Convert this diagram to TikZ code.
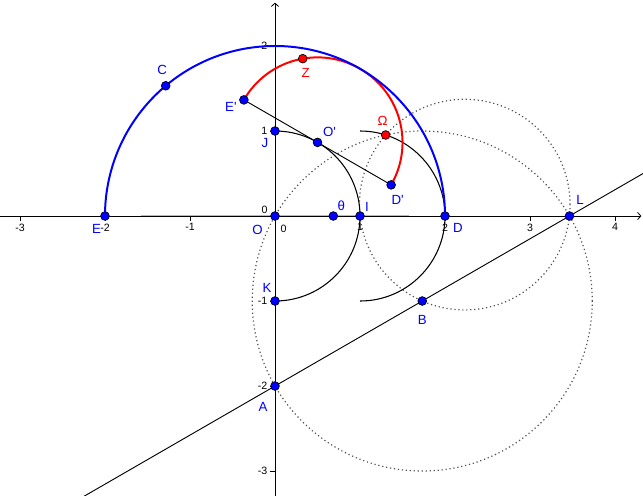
\documentclass[tikz,border=0pt]{standalone}
\usepackage{fontspec}
\setmainfont{Liberation Sans}
\usetikzlibrary{arrows.meta,calc}
\definecolor{ggblue}{RGB}{0,0,255}
\definecolor{ggred}{RGB}{255,0,0}
\definecolor{dotgray}{RGB}{80,80,80}
\begin{document}
\begin{tikzpicture}[x=2.25cm,y=2.25cm,
    axis/.style={line width=0.6pt,-{Straight Barb[length=2.5pt,width=5.5pt]}},
    arcline/.style={line width=0.8pt},
    dotcirc/.style={dotgray,line width=0.9pt,dash pattern=on 0.9pt off 2.1pt},
    ticklbl/.style={font=\fontsize{8}{8}\selectfont,inner sep=0pt},
    pt/.style={circle,draw=black,line width=0.5pt,inner sep=0pt,minimum size=6.6pt},
    lbl/.style={font=\fontsize{10}{10}\selectfont,inner sep=0pt}]
    \useasboundingbox (-3.235,-3.282) rectangle (4.329,2.541);
    \clip (-3.235,-3.282) rectangle (4.329,2.541);

    % axes and slider
    \draw[gray!55,line width=1.8pt] (-1.5708,0) -- (1.5708,0);
    \draw[axis] (-3.3,0) -- (4.31,0);
    \draw[axis] (0,-3.3) -- (0,2.51);
    \foreach \x in {-3,-2,-1,1,2,3,4}
        \draw[line width=0.5pt] (\x,0) -- ++(0,-3.5pt) node[ticklbl,anchor=north,yshift=-2pt] (tx\x) {\x};
    \foreach \y in {-3,-2,-1,1,2}
        \draw[line width=0.5pt] (0,\y) -- ++(-3.5pt,0) node[ticklbl,anchor=east,xshift=-2pt] (ty\y) {\y};
    \node[ticklbl] (tx0) at (6.4pt,-9.4pt) {0};
    \node[ticklbl] (ty0) at (-7.9pt,4.5pt) {0};

    \coordinate (O) at (0,0);
    \coordinate (I) at (1,0);
    \coordinate (D) at (2,0);
    \coordinate (E) at (-2,0);
    \coordinate (J) at (0,1);
    \coordinate (K) at (0,-1);
    \coordinate (A) at (0,-2);
    \coordinate (B) at (1.7321,-1);
    \coordinate (L) at (3.4641,0);
    \coordinate (C) at (130:2);
    \coordinate (Op) at (60:1);
    \coordinate (Ep) at ($(Op)+(150:1)$);
    \coordinate (Dp) at ($(Op)+(-30:1)$);
    \coordinate (Z) at ($(Op)+(100:1)$);
    \coordinate (Om) at (1.302,0.953);
    \coordinate (T) at (0.686,0);
    \coordinate (P) at (2.2321,0.1340);

    % circles and arcs
    \draw[dotcirc] (B) circle[radius=2];
    \draw[dotcirc] (P) circle[radius=1.2392];
    \draw[arcline] (J) arc[start angle=90,end angle=-90,radius=1];
    \draw[arcline] (I) ++(0,1) arc[start angle=90,end angle=-90,radius=1];
    \draw[line width=0.7pt] ($(A)!-3!(L)$) -- ($(A)!2!(L)$);
    \draw[line width=0.7pt] (Ep) -- (Dp);
    \draw[ggred,line width=1.5pt] (Dp) arc[start angle=-30,end angle=150,radius=1];
    \draw[ggblue,line width=1.5pt] (D) arc[start angle=0,end angle=180,radius=2];

    % points
    \foreach \p/\c/\dx/\dy/\t in {E/ggblue/-6.4/-10.1/E, C/ggblue/-2.6/12/C,
        Ep/ggblue/-9.8/-5.3/E\textquotesingle, Z/ggred/2.3/-10.5/Z,
        J/ggblue/-7.5/-9.4/J, Op/ggblue/9/8/O\textquotesingle,
        Om/ggred/-2.3/10.5/Ω, Dp/ggblue/4.9/-11.3/D\textquotesingle,
        T/ggblue/6/7.9/θ, I/ggblue/5.3/6.8/I, O/ggblue/-13.1/-10.5/O,
        D/ggblue/9.8/-9/D, L/ggblue/7.9/12/L, B/ggblue/0/-13.9/B,
        K/ggblue/-6/10.1/K, A/ggblue/-9/-15.8/A}
    {
        \node[pt,fill=\c] (n\p) at (\p) {};
        \node[lbl,text=\c] (l\p) at ([xshift=\dx pt,yshift=\dy pt]\p) {\t};
    }
\end{tikzpicture}
\end{document}
